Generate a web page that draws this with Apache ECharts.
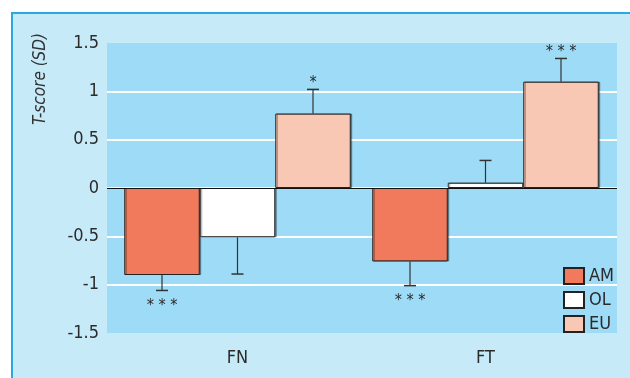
<!DOCTYPE html>
<html>
<head>
<meta charset="utf-8">
<script src="https://cdn.jsdelivr.net/npm/echarts@6/dist/echarts.min.js"></script>
<style>html,body{margin:0;padding:0;background:#fff}#c{width:630px;height:378px}</style>
</head>
<body>
<div id="c"></div>
<script>
var categories = ['FN', 'FT'];
var seriesNames = ['AM', 'OL', 'EU'];
var amValues = [-0.90, -0.76];
var olValues = [-0.51, 0.055];
var euValues = [0.77, 1.10];
var amErrEnd = [-1.06, -1.01];
var olErrEnd = [-0.89, 0.285];
var euErrEnd = [1.02, 1.34];
var amSig = ['* * *', '* * *'];
var olSig = ['', ''];
var euSig = ['*', '* * *'];
var yTicks = [-1.5, -1, -0.5, 0, 0.5, 1, 1.5];

var FONT = "'Liberation Sans Narrow', 'DejaVu Sans Condensed', 'Roboto', sans-serif";
var TXT = '#2b2b2b';
var colors = ['#f27a5c', '#ffffff', '#f8c8b4'];
var BAR_W = 75.5;

var chart = echarts.init(document.getElementById('c'), null, {renderer: 'canvas'});

function errSeries(idx, vals, ends, sigs) {
  var data = categories.map(function (c, i) { return [i, vals[i], ends[i]]; });
  return {
    type: 'custom',
    name: seriesNames[idx] + '_err',
    xAxisIndex: 1, yAxisIndex: 1,
    silent: true,
    z: 5,
    data: data,
    encode: {x: 0, y: 2},
    renderItem: function (params, api) {
      var cat = api.value(0);
      var v = api.value(1);
      var e = api.value(2);
      var sig = sigs[params.dataIndex];
      var p0 = api.coord([cat, v]);
      var p1 = api.coord([cat, e]);
      var x = p0[0] + (idx - 1) * BAR_W;
      var up = e > v ? true : (e < v ? false : v >= 0);
      var children = [
        {type: 'line', shape: {x1: x, y1: p0[1], x2: x, y2: p1[1]}, style: {stroke: '#333', lineWidth: 1.2}},
        {type: 'line', shape: {x1: x - 6, y1: p1[1], x2: x + 6, y2: p1[1]}, style: {stroke: '#333', lineWidth: 1.5}}
      ];
      if (sig) {
        children.push({
          type: 'text',
          x: x,
          y: up ? p1[1] + 1 : p1[1] + 7,
          style: {
            text: sig, fill: TXT, font: '16px ' + FONT,
            align: 'center', verticalAlign: up ? 'bottom' : 'top'
          }
        });
      }
      return {type: 'group', children: children};
    }
  };
}

function barSeries(idx, vals) {
  return {
    type: 'bar',
    name: seriesNames[idx],
    xAxisIndex: 1, yAxisIndex: 1,
    data: vals,
    barWidth: BAR_W,
    barGap: '0%',
    itemStyle: {
      color: colors[idx], borderColor: '#222', borderWidth: 1,
      shadowColor: 'rgba(0,0,0,0.35)', shadowOffsetX: 1.5, shadowOffsetY: 0, shadowBlur: 0
    },
    emphasis: {disabled: true},
    z: 3
  };
}

var option = {
  animation: false,
  backgroundColor: '#ffffff',
  textStyle: {fontFamily: FONT},
  graphic: [
    {type: 'rect', shape: {x: 12, y: 13, width: 630, height: 380},
     style: {fill: '#c7eaf9', stroke: '#2aa9e1', lineWidth: 2}, z: -10, silent: true},
    {type: 'text', x: 41, y: 79, rotation: Math.PI / 2,
     style: {text: 'T-score (SD)', fill: '#333', font: 'italic 17px ' + FONT, align: 'center', verticalAlign: 'middle'},
     z: 10, silent: true}
  ],
  legend: {
    orient: 'vertical',
    left: 558,
    top: 262,
    itemWidth: 20,
    itemHeight: 16,
    itemGap: 6,
    icon: 'rect',
    data: seriesNames,
    textStyle: {fontSize: 18, color: TXT, fontFamily: FONT},
    selectedMode: false
  },
  grid: [
    {left: 107, right: 13, top: 43, bottom: 45, show: true, backgroundColor: '#9edbf6', borderWidth: 0},
    {left: 113.5, right: 20.5, top: 43, bottom: 45, show: false}
  ],
  xAxis: [
    {
      type: 'value', gridIndex: 0, min: 0, max: 1,
      show: false, splitLine: {show: false}
    },
    {
      type: 'category', gridIndex: 1,
      data: categories,
      axisLine: {show: false, onZero: false},
      axisTick: {show: false},
      axisLabel: {fontSize: 18, color: TXT, margin: 16, fontFamily: FONT},
      splitLine: {show: false}
    }
  ],
  yAxis: [
    {
      type: 'value', gridIndex: 0,
      min: yTicks[0],
      max: yTicks[yTicks.length - 1],
      interval: 0.5,
      axisLine: {show: false},
      axisTick: {show: false},
      axisLabel: {fontSize: 18, color: TXT, margin: 8, fontFamily: FONT,
        formatter: function (v) { return String(v); }},
      splitLine: {show: true, lineStyle: {color: ['rgba(0,0,0,0)', '#fff', '#fff', '#fff', '#fff', '#fff', 'rgba(0,0,0,0)'], width: 2}}
    },
    {
      type: 'value', gridIndex: 1,
      min: yTicks[0],
      max: yTicks[yTicks.length - 1],
      interval: 0.5,
      show: false, splitLine: {show: false}
    }
  ],
  series: [
    {
      type: 'line', xAxisIndex: 0, yAxisIndex: 0, data: [], silent: true,
      markLine: {
        silent: true, symbol: 'none', label: {show: false},
        lineStyle: {color: '#111', width: 1.2, type: 'solid'},
        data: [{yAxis: 0}]
      },
      z: 4
    },
    barSeries(0, amValues),
    barSeries(1, olValues),
    barSeries(2, euValues),
    errSeries(0, amValues, amErrEnd, amSig),
    errSeries(1, olValues, olErrEnd, olSig),
    errSeries(2, euValues, euErrEnd, euSig)
  ]
};
chart.setOption(option);
</script>
</body>
</html>
